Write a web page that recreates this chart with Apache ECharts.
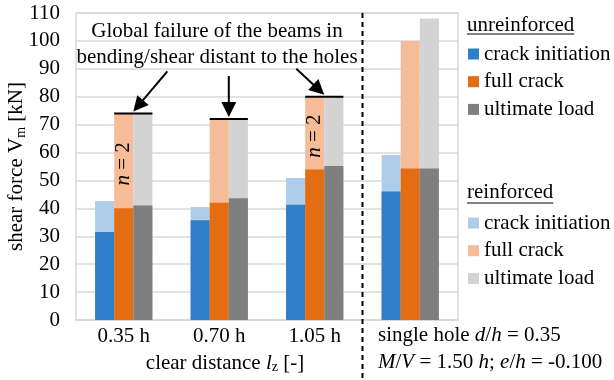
<!DOCTYPE html>
<html>
<head>
<meta charset="utf-8">
<script src="https://cdn.jsdelivr.net/npm/echarts@6/dist/echarts.min.js"></script>
<style>
  html, body { margin: 0; padding: 0; background: #fff; }
  #chart { width: 614px; height: 380px; }
</style>
</head>
<body>
<div id="chart"></div>
<script>
// Hole-spacing groups on the category axis (last group: single-hole reference)
const categories = ['0.35 h', '0.70 h', '1.05 h', ''];

// Shear force V_m [kN], unreinforced beams
const unreinforcedCrackInit = [31.5, 35.7, 41.3, 46.0];
const unreinforcedFullCrack = [40.0, 42.0, 53.9, 54.3];
const unreinforcedUltimate  = [41.0, 43.6, 55.2, 54.3];

// Shear force V_m [kN], reinforced beams
const reinforcedCrackInit = [42.6, 40.5, 50.9, 59.1];
const reinforcedFullCrack = [74.0, 72.0, 80.0, 100.0];
const reinforcedUltimate  = [74.0, 72.0, 80.0, 108.0];

// Value axis
const yMin = 0, yMax = 110, yStep = 10;

// Per-group notes: number of tests, and whether the beams failed globally
const replicateNotes = ['n = 2', '', 'n = 2', ''];
const globalFailure  = [true, true, true, false];

const FONT = 'Liberation Serif';
const FS = 21;
const FS_SUB = 14;
const C = {
  blue: '#2F7EC7', orange: '#E46C12', gray: '#7F7F7F',
  lblue: '#AFCDEA', lorange: '#F5BC97', lgray: '#D3D3D3',
  grid: '#D9D9D9'
};

const legendText = {
  'u-ci': 'crack initiation', 'u-fc': 'full crack', 'u-ul': 'ultimate load',
  'r-ci': 'crack initiation', 'r-fc': 'full crack', 'r-ul': 'ultimate load'
};

const chart = echarts.init(document.getElementById('chart'), null, { renderer: 'canvas' });

function barSeries(name, data, color, axis, z) {
  return {
    name: name, type: 'bar', data: data, xAxisIndex: axis, yAxisIndex: 0,
    barGap: 0, barCategoryGap: '40%', z: z, silent: true,
    itemStyle: { color: color }, emphasis: { disabled: true }
  };
}

const legendBase = {
  orient: 'vertical', left: 468, itemWidth: 11, itemHeight: 11, itemGap: 5.7,
  icon: 'rect', selectedMode: false, padding: 0, itemTextGap: 5,
  formatter: n => legendText[n],
  textStyle: { fontFamily: FONT, fontSize: FS, color: '#000', lineHeight: 22 }
};

chart.setOption({
  animation: false,
  grid: {
    left: 76, right: 156, top: 13, bottom: 60, outerBoundsMode: 'none',
    show: true, borderColor: C.grid, borderWidth: 1.5
  },
  xAxis: [
    {
      type: 'category', data: categories, gridIndex: 0,
      axisLine: { show: true, lineStyle: { color: C.grid, width: 1.5 } },
      axisTick: { show: false },
      axisLabel: { fontFamily: FONT, fontSize: FS, color: '#000', margin: 6 }
    },
    { type: 'category', data: categories, gridIndex: 0, show: false }
  ],
  yAxis: {
    type: 'value', min: yMin, max: yMax, interval: yStep,
    axisLine: { show: false }, axisTick: { show: false },
    splitLine: { lineStyle: { color: C.grid, width: 1.5 } },
    axisLabel: { fontFamily: FONT, fontSize: FS, color: '#000', margin: 16 },
    name: 'shear force V{s|m} [kN]', nameLocation: 'middle', nameRotate: 90, nameGap: 48,
    nameMoveOverlap: false,
    nameTextStyle: {
      fontFamily: FONT, fontSize: FS, color: '#000',
      rich: { s: { fontFamily: FONT, fontSize: FS_SUB, color: '#000', padding: [9, 0, 0, 0] } }
    }
  },
  legend: [
    Object.assign({}, legendBase, { top: 43, data: ['u-ci', 'u-fc', 'u-ul'] }),
    Object.assign({}, legendBase, { top: 212, data: ['r-ci', 'r-fc', 'r-ul'] })
  ],
  series: [
    barSeries('r-ci', reinforcedCrackInit, C.lblue, 0, 2),
    barSeries('r-fc', reinforcedFullCrack, C.lorange, 0, 2),
    barSeries('r-ul', reinforcedUltimate, C.lgray, 0, 2),
    barSeries('u-ci', unreinforcedCrackInit, C.blue, 1, 3),
    barSeries('u-fc', unreinforcedFullCrack, C.orange, 1, 3),
    barSeries('u-ul', unreinforcedUltimate, C.gray, 1, 3)
  ]
});

// ---- annotations placed from the axes' own scales ----
const px = (i, v) => chart.convertToPixel({ seriesIndex: 0 }, [i, v]);
const band = px(1, 0)[0] - px(0, 0)[0];
const barW = band * 0.6 / 3;
const topY = px(0, yMax)[1];

const txt = { fontFamily: FONT, fontSize: FS, fill: '#000' };
const rich = {
  r: { fontFamily: FONT, fontSize: FS, color: '#000' },
  i: { fontFamily: FONT, fontSize: FS, color: '#000', fontStyle: 'italic' },
  s: { fontFamily: FONT, fontSize: FS_SUB, color: '#000', padding: [9, 0, 0, 0] }
};

const measure = (() => {
  const ctx = document.createElement('canvas').getContext('2d');
  ctx.font = FS + 'px "' + FONT + '"';
  return s => ctx.measureText(s).width;
})();

const graphics = [];

// group separator
const sepX = (px(2, 0)[0] + px(3, 0)[0]) / 2;
graphics.push({
  type: 'line', z: 10,
  shape: { x1: sepX, y1: topY, x2: sepX, y2: 380 },
  style: { stroke: '#000', lineWidth: 2, lineDash: [5, 4] }
});

// global-failure caption
graphics.push({ type: 'text', z: 10, style: Object.assign({ text: 'Global failure of the beams in', x: 217, y: 31, align: 'center', verticalAlign: 'middle' }, txt) });
graphics.push({ type: 'text', z: 10, style: Object.assign({ text: 'bending/shear distant to the holes', x: 217, y: 57, align: 'center', verticalAlign: 'middle' }, txt) });

// caps over the reinforced bars and arrows pointing at them
const arrowTail = [[34, -40], [0, -41], [-28, -26]];
globalFailure.forEach((g, i) => {
  if (!g) return;
  const cx = px(i, 0)[0];
  const y = px(i, reinforcedUltimate[i])[1];
  graphics.push({
    type: 'line', z: 10,
    shape: { x1: cx - barW / 2, y1: y, x2: cx + barW * 1.5, y2: y },
    style: { stroke: '#000', lineWidth: 2 }
  });
  const tip = [cx + barW / 2, y - 2];
  const tail = [tip[0] + arrowTail[i][0], tip[1] + arrowTail[i][1]];
  const dx = tip[0] - tail[0], dy = tip[1] - tail[1];
  const L = Math.hypot(dx, dy), ux = dx / L, uy = dy / L;
  const hl = 15, hw = 7.5;
  const base = [tip[0] - ux * hl, tip[1] - uy * hl];
  graphics.push({
    type: 'line', z: 10,
    shape: { x1: tail[0], y1: tail[1], x2: base[0] + ux, y2: base[1] + uy },
    style: { stroke: '#000', lineWidth: 2 }
  });
  graphics.push({
    type: 'polygon', z: 10,
    shape: { points: [tip, [base[0] - uy * hw, base[1] + ux * hw], [base[0] + uy * hw, base[1] - ux * hw]] },
    style: { fill: '#000' }
  });
});

// number of tests, written inside the reinforced full-crack bars
replicateNotes.forEach((note, i) => {
  if (!note) return;
  const cx = px(i, 0)[0];
  const yMid = (px(i, unreinforcedFullCrack[i])[1] + px(i, reinforcedFullCrack[i])[1]) / 2 + 3;
  graphics.push({
    type: 'text', z: 10, x: cx, y: yMid, rotation: Math.PI / 2,
    style: { text: '{i|n}{r|' + note.slice(1) + '}', rich: rich, x: 0, y: 0, align: 'center', verticalAlign: 'middle' }
  });
});

// axis title for the spacing groups
graphics.push({
  type: 'text', z: 10,
  style: { text: '{r|clear distance }{i|l}{s|z}{r| [-]}', rich: rich, x: 225, y: 363, align: 'center', verticalAlign: 'middle' }
});

// description of the single-hole reference group
graphics.push({
  type: 'text', z: 10,
  style: { text: '{r|single hole }{i|d}{r|/}{i|h}{r| = 0.35}', rich: rich, x: 378, y: 335, align: 'left', verticalAlign: 'middle' }
});
graphics.push({
  type: 'text', z: 10,
  style: { text: '{i|M}{r|/}{i|V}{r| = 1.50 }{i|h}{r|; }{i|e}{r|/}{i|h}{r| = -0.100}', rich: rich, x: 378, y: 362, align: 'left', verticalAlign: 'middle' }
});

// legend headings, underlined
[['unreinforced', 25, 34], ['reinforced', 192, 203]].forEach(([t, y, uy]) => {
  graphics.push({ type: 'text', z: 10, style: Object.assign({ text: t, x: 467, y: y, align: 'left', verticalAlign: 'middle' }, txt) });
  graphics.push({
    type: 'line', z: 10,
    shape: { x1: 467, y1: uy, x2: 467 + measure(t), y2: uy },
    style: { stroke: '#000', lineWidth: 1 }
  });
});

chart.setOption({ graphic: graphics });
</script>
</body>
</html>
